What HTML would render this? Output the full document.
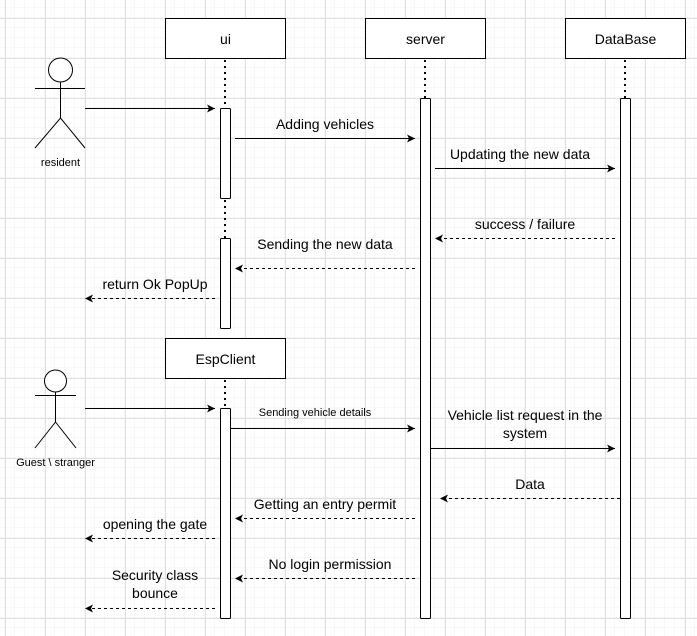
<!DOCTYPE html>
<html><head><meta charset="utf-8"><style>
html,body{margin:0;padding:0;background:#fff}
svg{display:block}
text{font-family:"Liberation Sans",Arial,sans-serif;fill:#000}
</style></head><body>
<svg width="697" height="636" viewBox="0 0 697 636" xmlns="http://www.w3.org/2000/svg">
<defs>
<pattern id="minor" width="10" height="10" patternUnits="userSpaceOnUse" x="5" y="8">
<path d="M10 0V10M0 10H10" stroke="#f0f0f0" stroke-width="1" fill="none"/>
</pattern>
<pattern id="major" width="40" height="40" patternUnits="userSpaceOnUse" x="5" y="18">
<path d="M0.5 0V40M0 0.5H40" stroke="#e0e0e0" stroke-width="1" fill="none"/>
</pattern>
<marker id="a" markerWidth="10" markerHeight="10" refX="8" refY="5" orient="auto" markerUnits="userSpaceOnUse">
<path d="M0,1 L8,5 L0,9 L2,5 Z" fill="#000"/>
</marker>
</defs>
<rect width="697" height="636" fill="url(#minor)"/>
<rect width="697" height="636" fill="url(#major)"/>

<g stroke="#000" fill="none">
<!-- boxes -->
<rect x="165.5" y="18.5" width="120" height="40" fill="#fff"/>
<rect x="365.5" y="18.5" width="120" height="40" fill="#fff"/>
<rect x="565.5" y="18.5" width="120" height="40" fill="#fff"/>
<rect x="165.5" y="338.5" width="120" height="40" fill="#fff"/>
<!-- dotted lifelines -->
<g stroke-width="2" stroke-dasharray="2,4">
<line x1="225" y1="60" x2="225" y2="108"/>
<line x1="225" y1="200" x2="225" y2="238"/>
<line x1="425" y1="60" x2="425" y2="98"/>
<line x1="625" y1="60" x2="625" y2="98"/>
<line x1="225" y1="380" x2="225" y2="408"/>
</g>
<!-- activations -->
<rect x="220.5" y="108.5" width="10" height="90" rx="1" fill="#fff"/>
<rect x="220.5" y="238.5" width="10" height="90" rx="1" fill="#fff"/>
<rect x="420.5" y="98.5" width="10" height="520" rx="1" fill="#fff"/>
<rect x="620.5" y="98.5" width="10" height="520" rx="1" fill="#fff"/>
<rect x="220.5" y="408.5" width="10" height="210" rx="1" fill="#fff"/>
<!-- actors -->
<circle cx="60.5" cy="70" r="12" fill="#fff"/>
<path d="M60.5 82V118M35 88.5H85M35 148L60.5 118L85 148"/>
<circle cx="55.5" cy="381" r="11" fill="#fff"/>
<path d="M55.5 392V422M35 395.5H76M35 448L55.5 422L76 448"/>
<!-- solid messages -->
<g marker-end="url(#a)">
<line x1="85" y1="108.5" x2="215" y2="108.5"/>
<line x1="235" y1="138.5" x2="415" y2="138.5"/>
<line x1="435" y1="168.5" x2="615" y2="168.5"/>
<line x1="85" y1="408.5" x2="215" y2="408.5"/>
<line x1="231" y1="428.5" x2="415" y2="428.5"/>
<line x1="431" y1="448.5" x2="615" y2="448.5"/>
</g>
<!-- dashed messages -->
<g marker-end="url(#a)" stroke-dasharray="3,3">
<line x1="615" y1="238.5" x2="435" y2="238.5"/>
<line x1="415" y1="268.5" x2="235" y2="268.5"/>
<line x1="215" y1="298.5" x2="85" y2="298.5"/>
<line x1="620" y1="498.5" x2="440" y2="498.5"/>
<line x1="415" y1="518.5" x2="235" y2="518.5"/>
<line x1="215" y1="538.5" x2="85" y2="538.5"/>
<line x1="415" y1="578.5" x2="235" y2="578.5"/>
<line x1="215" y1="608.5" x2="85" y2="608.5"/>
</g>
</g>

<g font-size="14" text-anchor="middle">
<text x="225.5" y="44">ui</text>
<text x="425.5" y="44">server</text>
<text x="625.5" y="44">DataBase</text>
<text x="225.5" y="364">EspClient</text>
<text x="325" y="129">Adding vehicles</text>
<text x="520" y="159">Updating the new data</text>
<text x="525" y="229">success / failure</text>
<text x="325" y="249">Sending the new data</text>
<text x="155" y="289">return Ok PopUp</text>
<text x="525" y="420">Vehicle list request in the</text>
<text x="525" y="438">system</text>
<text x="530" y="489">Data</text>
<text x="325" y="509">Getting an entry permit</text>
<text x="155" y="529">opening the gate</text>
<text x="330" y="569">No login permission</text>
<text x="155" y="580">Security class</text>
<text x="155" y="598">bounce</text>
</g>
<g font-size="11" text-anchor="middle">
<text x="60.5" y="166">resident</text>
<text x="55.5" y="466">Guest \ stranger</text>
<text x="315" y="416">Sending vehicle details</text>
</g>
</svg>
</body></html>
